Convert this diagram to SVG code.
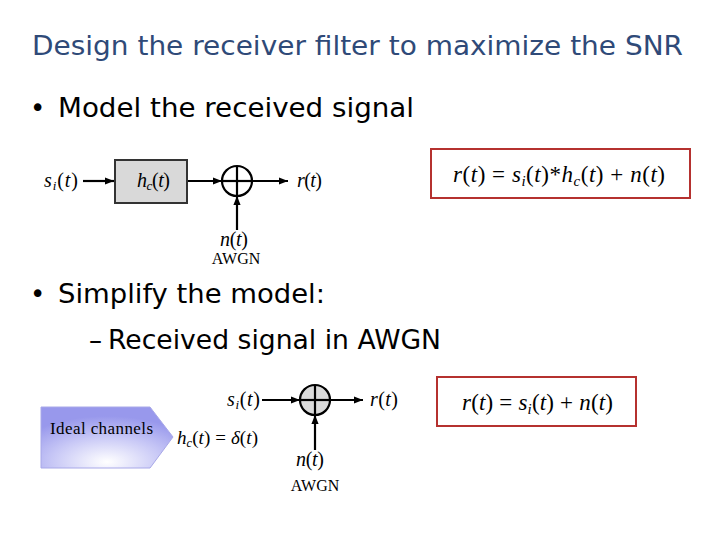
<svg xmlns="http://www.w3.org/2000/svg" width="720" height="540" viewBox="0 0 720 540">
<defs>
<style>
.title{font-family:"DejaVu Sans",Verdana,sans-serif;font-size:26px;fill:#2f4a78}
.bul{font-family:"DejaVu Sans",Verdana,sans-serif;font-size:26px;fill:#000}
.m{font-family:"Liberation Serif","Times New Roman",serif;font-style:italic;fill:#000}
.u{font-style:normal}
.sub{font-size:65%}
.awgn{font-family:"Liberation Serif","Times New Roman",serif;font-size:16px;fill:#000}
.ln{stroke:#000;stroke-width:2.2;fill:none}
.eqbox{fill:#fff;stroke:#b5312f;stroke-width:2}
</style>
<marker id="ah" viewBox="0 0 10 10" refX="10" refY="5" markerWidth="9" markerHeight="9" markerUnits="userSpaceOnUse" orient="auto">
<path d="M0,1 L10,5 L0,9 z" fill="#000"/>
</marker>
<radialGradient id="pg" cx="0.5" cy="0.9" r="0.75" fx="0.5" fy="0.9">
<stop offset="0" stop-color="#ffffff"/>
<stop offset="0.55" stop-color="#c8c8f6"/>
<stop offset="1" stop-color="#9898ec"/>
</radialGradient>
</defs>
<rect width="720" height="540" fill="#fff"/>

<text class="title" x="32" y="55" textLength="651" lengthAdjust="spacingAndGlyphs">Design the receiver filter to maximize the SNR</text>
<text class="bul" x="30" y="117">•</text>
<text class="bul" x="58" y="117" textLength="356" lengthAdjust="spacingAndGlyphs">Model the received signal</text>
<text class="bul" x="30" y="303">•</text>
<text class="bul" x="58" y="303" textLength="267" lengthAdjust="spacingAndGlyphs">Simplify the model:</text>
<text class="bul" x="89" y="349">–</text>
<text class="bul" x="108" y="349" textLength="333" lengthAdjust="spacingAndGlyphs">Received signal in AWGN</text>

<g id="connectors">
<line class="ln" x1="83" y1="181" x2="114" y2="181" marker-end="url(#ah)"/>
<line class="ln" x1="187" y1="181" x2="222" y2="181" marker-end="url(#ah)"/>
<line class="ln" x1="252" y1="181" x2="288" y2="181" marker-end="url(#ah)"/>
<line class="ln" x1="237" y1="230" x2="237" y2="196" marker-end="url(#ah)"/>
<line class="ln" x1="262" y1="400" x2="300" y2="400" marker-end="url(#ah)"/>
<line class="ln" x1="330" y1="400" x2="363" y2="400" marker-end="url(#ah)"/>
<line class="ln" x1="315" y1="450" x2="315" y2="415" marker-end="url(#ah)"/>
</g>

<g id="si1"><text class="m" x="44" y="187" font-size="20" textLength="34">s<tspan class="sub" dy="3">i</tspan><tspan class="u" dy="-3">(</tspan>t<tspan class="u">)</tspan></text></g>
<g id="hc-box">
<rect x="115" y="160" width="72" height="43" fill="#d9d9d9" stroke="#333" stroke-width="2"/>
<text class="m" x="137" y="187" font-size="20" textLength="33">h<tspan class="sub" dy="3">c</tspan><tspan class="u" dy="-3">(</tspan>t<tspan class="u">)</tspan></text>
</g>
<g id="sum1">
<circle cx="237" cy="181" r="15" fill="#fff" stroke="#000" stroke-width="2.2"/>
<line class="ln" x1="222" y1="181" x2="252" y2="181"/>
<line class="ln" x1="237" y1="166" x2="237" y2="196"/>
</g>
<g id="r1"><text class="m" x="297" y="187" font-size="20" textLength="25">r<tspan class="u">(</tspan>t<tspan class="u">)</tspan></text></g>
<g id="n1">
<text class="m" x="220" y="246" font-size="20" textLength="28">n<tspan class="u">(</tspan>t<tspan class="u">)</tspan></text>
<text class="awgn" x="236" y="264" text-anchor="middle">AWGN</text>
</g>
<g id="eq1">
<rect class="eqbox" x="431" y="149" width="259" height="49"/>
<text class="m" x="453" y="182" font-size="23" textLength="212">r<tspan class="u">(</tspan>t<tspan class="u">) = </tspan>s<tspan class="sub" dy="4">i</tspan><tspan class="u" dy="-4">(</tspan>t<tspan class="u">)</tspan><tspan class="u">*</tspan>h<tspan class="sub" dy="4">c</tspan><tspan class="u" dy="-4">(</tspan>t<tspan class="u">) + </tspan>n<tspan class="u">(</tspan>t<tspan class="u">)</tspan></text>
</g>

<g id="ideal">
<path d="M41,407 L150,407 L173,437 L150,468 L41,468 Z" fill="url(#pg)" stroke="#a8a8e8" stroke-width="1"/>
<text x="50" y="434" font-family="Liberation Serif,'Times New Roman',serif" font-size="17" fill="#000" textLength="103">Ideal channels</text>
</g>
<g id="hc-delta"><text class="m" x="177" y="444" font-size="19" textLength="81">h<tspan class="sub" dy="3">c</tspan><tspan class="u" dy="-3">(</tspan>t<tspan class="u">) = </tspan>δ<tspan class="u">(</tspan>t<tspan class="u">)</tspan></text></g>
<g id="si2"><text class="m" x="227" y="406" font-size="20" textLength="33">s<tspan class="sub" dy="3">i</tspan><tspan class="u" dy="-3">(</tspan>t<tspan class="u">)</tspan></text></g>
<g id="sum2">
<circle cx="315" cy="400" r="15" fill="#d9d9d9" stroke="#000" stroke-width="2.2"/>
<line class="ln" x1="300" y1="400" x2="330" y2="400"/>
<line class="ln" x1="315" y1="385" x2="315" y2="415"/>
</g>
<g id="r2"><text class="m" x="370" y="406" font-size="20" textLength="28">r<tspan class="u">(</tspan>t<tspan class="u">)</tspan></text></g>
<g id="n2">
<text class="m" x="296" y="466" font-size="20" textLength="28">n<tspan class="u">(</tspan>t<tspan class="u">)</tspan></text>
<text class="awgn" x="315" y="491" text-anchor="middle">AWGN</text>
</g>
<g id="eq2">
<rect class="eqbox" x="437" y="377" width="199" height="49"/>
<text class="m" x="462" y="410" font-size="23" textLength="151">r<tspan class="u">(</tspan>t<tspan class="u">) = </tspan>s<tspan class="sub" dy="4">i</tspan><tspan class="u" dy="-4">(</tspan>t<tspan class="u">) + </tspan>n<tspan class="u">(</tspan>t<tspan class="u">)</tspan></text>
</g>
</svg>
